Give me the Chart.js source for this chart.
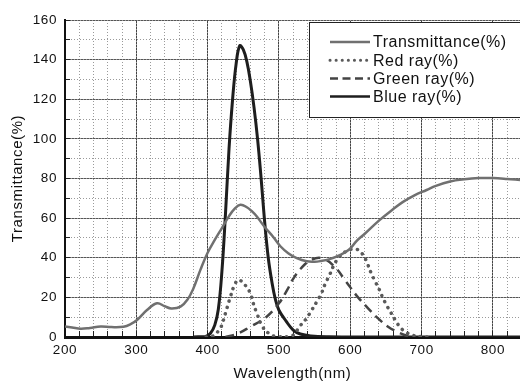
<!DOCTYPE html>
<html>
<head>
<meta charset="utf-8">
<script src="https://cdn.jsdelivr.net/npm/chart.js@4"></script>
<style>
  html, body { margin: 0; padding: 0; background: #fff; }
  canvas { display: block; }
</style>
</head>
<body>
<canvas id="chart" width="520" height="383"></canvas>
<script>
const seriesLabels = ['Transmittance(%)', 'Red ray(%)', 'Green ray(%)', 'Blue ray(%)'];

const transWl = [200, 210, 222, 235, 250, 265, 282, 292, 301, 315, 329, 340, 349, 362, 372, 380, 390, 400, 410, 420, 430, 438, 446, 455, 462, 469, 480, 492, 502, 513, 525, 539, 550, 558, 570, 586, 598, 609, 620, 641, 660, 674, 690, 707, 720, 740, 760, 780, 800, 820, 838];
const transVals = [5.3, 4.8, 4.2, 4.6, 5.3, 5.0, 5.2, 6.5, 8.6, 13.6, 17.0, 15.5, 14.4, 15.3, 19.0, 24.5, 34.0, 42.5, 49.0, 55.0, 61.0, 64.8, 66.7, 65.5, 63.5, 60.8, 55.5, 50.5, 45.8, 42.3, 39.8, 38.2, 38.0, 38.3, 39.2, 41.5, 44.0, 48.5, 52.0, 59.0, 64.5, 68.2, 71.5, 74.2, 76.3, 78.5, 79.6, 80.2, 80.2, 79.8, 79.3];

const redWl = [398, 405, 410, 415, 419, 425, 432, 438, 443, 448, 454, 460, 464, 469, 477, 486, 495, 515, 522, 528, 538, 546, 553, 560, 565, 571, 576, 583, 593, 602, 611, 618, 623, 629, 635, 641, 646, 651, 657, 663, 670, 677, 686, 700, 712];
const redVals = [0, 0.2, 1.0, 3.0, 5.2, 12.0, 20.4, 26.5, 28.8, 28.0, 25.5, 22.0, 17.0, 12.0, 5.2, 1.8, 0.3, 0.3, 1.5, 4.9, 9.1, 13.6, 17.8, 22.4, 27.0, 31.3, 35.5, 39.7, 43.0, 44.3, 44.0, 41.4, 38.0, 32.5, 28.0, 23.7, 19.5, 16.0, 12.3, 8.6, 4.9, 2.7, 1.0, 0.2, 0];

const greenWl = [425, 441, 460, 482, 500, 512, 519, 531, 545, 561, 578, 594, 610, 625, 639, 653, 665, 676, 685];
const greenVals = [0, 1.5, 5.2, 10.0, 17.0, 24.0, 28.8, 34.7, 38.9, 39.7, 35.5, 28.0, 20.4, 14.5, 9.4, 5.2, 2.7, 1.0, 0];

const blueWl = [380, 397, 404, 410, 415, 420, 425, 430, 435, 440, 445, 450, 455, 460, 465, 470, 475, 480, 485, 490, 495, 500, 510, 520, 530, 545, 570, 620, 700, 838];
const blueVals = [0, 0.3, 1.9, 6.0, 14.0, 33.0, 62.0, 95.0, 120.0, 138.0, 147.0, 145.0, 139.0, 129.0, 116.0, 100.0, 80.0, 58.0, 40.0, 28.0, 19.0, 13.5, 8.0, 3.5, 1.5, 0.5, 0.1, 0, 0, 0];

const xTickStep = 100;
const xMinorStep = 20;
const yTickStep = 20;
const yMinorStep = 10;

const FONT = '"Liberation Sans", Arial, sans-serif';

function toPoints(xs, ys) {
    return xs.map((x, i) => ({ x: x, y: ys[i] }));
}

// the original's text is a little spaced out
const spacedText = {
    id: 'spacedText',
    beforeDraw(chart) {
        chart.ctx.letterSpacing = '0.6px';
    }
};

const boxLegend = {
    id: 'boxLegend',
    afterDraw(chart) {
        const { ctx } = chart;
        const left = 309, top = 22;
        ctx.save();
        ctx.fillStyle = '#fff';
        ctx.fillRect(left, top, 220, 95);
        ctx.strokeStyle = '#222';
        ctx.lineWidth = 1;
        ctx.setLineDash([]);
        ctx.strokeRect(left + 0.5, top + 0.5, 220, 95);

        ctx.font = '16px ' + FONT;
        ctx.letterSpacing = '0.5px';
        ctx.textBaseline = 'middle';
        chart.data.datasets.forEach((ds, i) => {
            const y = 42 + i * 18.2;
            ctx.strokeStyle = ds.borderColor;
            ctx.lineWidth = ds.legendWidth || ds.borderWidth;
            ctx.lineCap = ds.borderCapStyle || 'butt';
            ctx.setLineDash(ds.legendDash || ds.borderDash || []);
            ctx.beginPath();
            ctx.moveTo(330, y);
            ctx.lineTo(370, y);
            ctx.stroke();
            ctx.setLineDash([]);
            ctx.fillStyle = '#111';
            ctx.fillText(ds.label, 373, y + 1);
        });
        ctx.restore();
    }
};

new Chart(document.getElementById('chart').getContext('2d'), {
    type: 'line',
    data: {
        datasets: [{
            label: seriesLabels[0],
            data: toPoints(transWl, transVals),
            borderColor: '#707070',
            borderWidth: 2.5,
            legendWidth: 2.5
        }, {
            label: seriesLabels[1],
            data: toPoints(redWl, redVals),
            borderColor: '#5a5a5a',
            borderWidth: 3.5,
            borderDash: [0.1, 6.5],
            borderCapStyle: 'round',
            legendWidth: 3,
            legendDash: [0.1, 6]
        }, {
            label: seriesLabels[2],
            data: toPoints(greenWl, greenVals),
            borderColor: '#444',
            borderWidth: 2.5,
            borderDash: [9, 6],
            legendDash: [8, 4.5]
        }, {
            label: seriesLabels[3],
            data: toPoints(blueWl, blueVals),
            borderColor: '#1e1e1e',
            borderWidth: 3,
            legendWidth: 2.5
        }]
    },
    options: {
        responsive: false,
        animation: false,
        layout: { padding: { top: 20, right: 0, bottom: 0, left: 0 } },
        elements: {
            point: { radius: 0 },
            line: { tension: 0.4, fill: false }
        },
        plugins: {
            legend: { display: false },
            tooltip: { enabled: false }
        },
        scales: {
            x: {
                type: 'linear',
                position: 'bottom',
                weight: 1,
                min: 200,
                max: 838,
                ticks: {
                    stepSize: xTickStep,
                    includeBounds: false,
                    color: '#111',
                    padding: 5,
                    font: { family: FONT, size: 13.5 }
                },
                grid: { color: '#444', lineWidth: 1, drawTicks: false },
                border: { color: '#111', width: 3 },
                title: {
                    display: true,
                    text: 'Wavelength(nm)',
                    color: '#111',
                    padding: { top: 0, bottom: 0 },
                    font: { family: FONT, size: 15 }
                },
                afterFit(scale) { scale.height = 46; }
            },
            x2: {
                type: 'linear',
                position: 'bottom',
                weight: 0,
                min: 200,
                max: 838,
                ticks: { display: false, stepSize: xMinorStep, includeBounds: false },
                grid: { color: '#9a9a9a', lineWidth: 1, drawTicks: true, tickLength: -6, tickColor: '#222', tickWidth: 1 },
                border: { display: false, dash: [1, 2] },
                afterFit(scale) { scale.height = 0; }
            },
            y: {
                position: 'left',
                weight: 1,
                min: 0,
                max: 160,
                ticks: {
                    stepSize: yTickStep,
                    color: '#111',
                    padding: 8,
                    font: { family: FONT, size: 13.5 }
                },
                grid: { color: '#555', lineWidth: 1, drawTicks: false },
                border: { color: '#111', width: 2 },
                title: {
                    display: true,
                    text: 'Transmittance(%)',
                    color: '#111',
                    padding: { top: 9, bottom: 0 },
                    font: { family: FONT, size: 15 }
                },
                afterFit(scale) { scale.width = 65; }
            },
            y2: {
                position: 'left',
                weight: 0,
                min: 0,
                max: 160,
                ticks: { display: false, stepSize: yMinorStep },
                grid: { color: '#9a9a9a', lineWidth: 1, drawTicks: true, tickLength: -5, tickColor: '#222', tickWidth: 1 },
                border: { display: false, dash: [1, 2] },
                afterFit(scale) { scale.width = 0; }
            }
        }
    },
    plugins: [spacedText, boxLegend]
});
</script>
</body>
</html>
